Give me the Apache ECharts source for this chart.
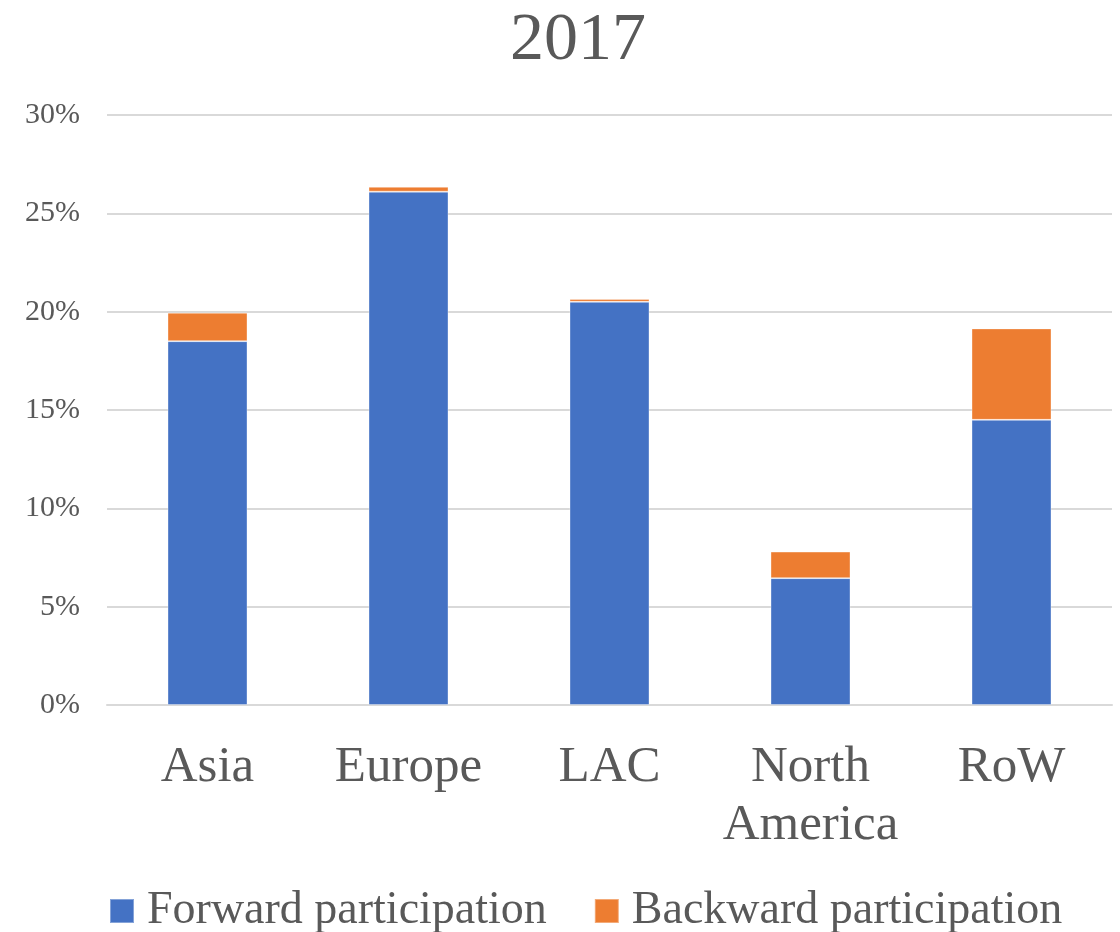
<!DOCTYPE html>
<html>
<head>
<meta charset="utf-8">
<script src="https://cdn.jsdelivr.net/npm/echarts@6/dist/echarts.min.js"></script>
<style>
  html, body { margin: 0; padding: 0; background: #fff; }
  #chartBox { width: 1120px; height: 932px; }
</style>
</head>
<body>
<div id="chartBox"></div>
<script>
var regions = ['Asia', 'Europe', 'LAC', 'North America', 'RoW'];
var forwardShare = [18.5, 26.1, 20.5, 6.45, 14.5];
var backwardShare = [1.45, 0.25, 0.15, 1.35, 4.65];
var seriesNames = ['Forward participation', 'Backward participation'];

var serif = "'Liberation Serif', 'DejaVu Serif', serif";
var textGrey = '#595959';

var myChart = echarts.init(document.getElementById('chartBox'));

var option = {
    backgroundColor: '#ffffff',
    animation: false,
    title: {
        text: '2017',
        left: 505,
        top: 2,
        textStyle: { fontFamily: serif, fontSize: 68, fontWeight: 'normal', color: textGrey }
    },
    legend: {
        data: seriesNames,
        left: 104,
        top: 883,
        itemWidth: 24,
        itemHeight: 24,
        itemGap: 47,
        icon: 'rect',
        textStyle: { fontFamily: serif, fontSize: 46, color: textGrey, padding: [0, 0, 0, 8] }
    },
    grid: { left: 107, right: 8, top: 115, bottom: 227 },
    xAxis: {
        type: 'category',
        data: regions,
        axisLine: { lineStyle: { color: '#d9d9d9', width: 2 } },
        axisTick: { show: false },
        axisLabel: {
            fontFamily: serif,
            fontSize: 51,
            lineHeight: 58,
            color: textGrey,
            margin: 34,
            interval: 0,
            formatter: function (v) { return v.replace(' ', '\n'); }
        }
    },
    yAxis: {
        type: 'value',
        min: 0,
        max: 30,
        interval: 5,
        axisLine: { show: false },
        axisTick: { show: false },
        splitLine: { lineStyle: { color: '#d9d9d9', width: 2 } },
        axisLabel: {
            fontFamily: serif,
            fontSize: 30,
            color: textGrey,
            margin: 27,
            formatter: '{value}%'
        }
    },
    series: [
        {
            name: seriesNames[0],
            type: 'bar',
            stack: 'total',
            barWidth: 80,
            data: forwardShare,
            itemStyle: { color: '#4472C4', borderColor: 'rgba(255,255,255,0.35)', borderWidth: 1 }
        },
        {
            name: seriesNames[1],
            type: 'bar',
            stack: 'total',
            barWidth: 80,
            data: backwardShare,
            itemStyle: { color: '#ED7D31', borderColor: 'rgba(255,255,255,0.35)', borderWidth: 1 }
        }
    ]
};

myChart.setOption(option);
</script>
</body>
</html>
